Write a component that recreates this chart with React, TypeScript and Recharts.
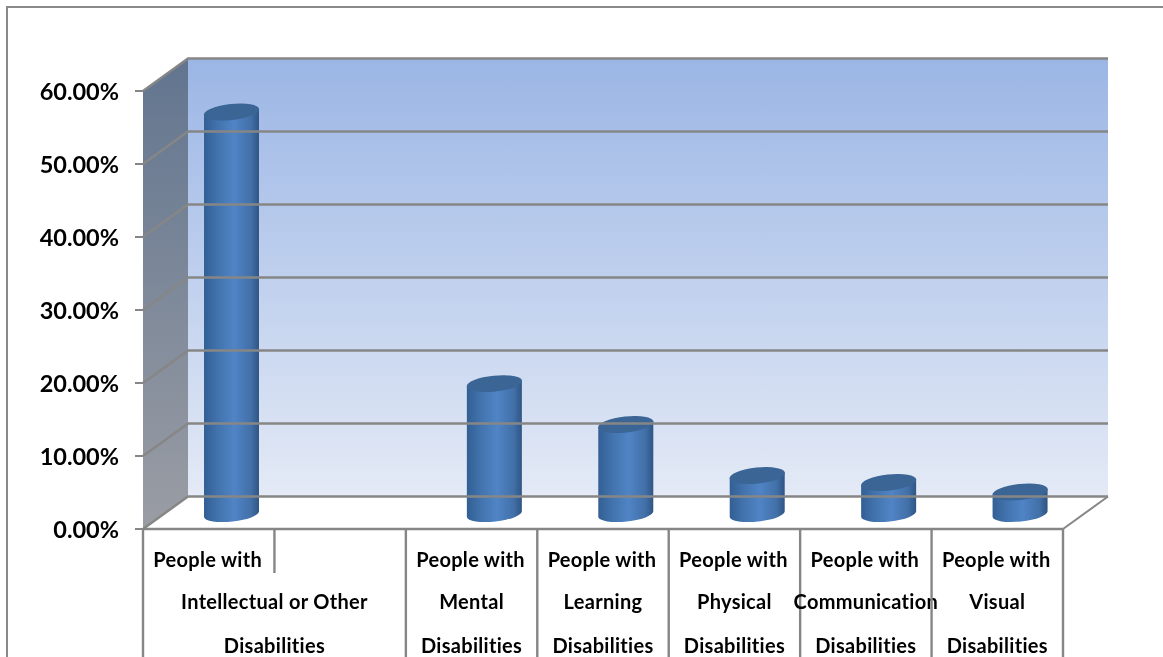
import React from 'react';
import { BarChart, Bar, XAxis, YAxis, Customized } from 'recharts';

// slot 2 has no bar: the first label spans two slots in the original sheet
const categories = ['Intellectual', 'Blank', 'Mental', 'Learning', 'Physical', 'Communication', 'Visual'];
const shares = [0.552, null, 0.18, 0.124, 0.054, 0.0445, 0.0315];
const topLabels = ['People with', '', 'People with', 'People with', 'People with', 'People with', 'People with'];
const midLabels = ['Intellectual or Other', '', 'Mental', 'Learning', 'Physical', 'Communication', 'Visual'];
const lowLabels = ['Disabilities', '', 'Disabilities', 'Disabilities', 'Disabilities', 'Disabilities', 'Disabilities'];
const labelSpans = [2, 0, 1, 1, 1, 1, 1];
const yTicks = [0, 0.1, 0.2, 0.3, 0.4, 0.5, 0.6];

const rows = categories.map((name, i) => ({ name, share: shares[i] }));

const FONT = 'Lato, sans-serif';
const GRID = '#868686';
const DEPTH_X = 45;
const DEPTH_Y = 32.5;
const LEFT = 143;
const RIGHT = 1063;
const TOP = 91;
const BASE = 529;
const BAND = (RIGHT - LEFT) / categories.length;

const Walls = () => (
  <g>
    <defs>
      <linearGradient id="backWall" x1="0" y1="0" x2="0" y2="1">
        <stop offset="0%" stopColor="#9bb6e5" />
        <stop offset="100%" stopColor="#e4eaf6" />
      </linearGradient>
      <linearGradient id="sideWall" x1="0" y1="0" x2="0" y2="1">
        <stop offset="0%" stopColor="#62758f" />
        <stop offset="100%" stopColor="#9a9da4" />
      </linearGradient>
      <linearGradient id="cylinder" x1="0" y1="0" x2="1" y2="0">
        <stop offset="0%" stopColor="#325f94" />
        <stop offset="25%" stopColor="#4273ad" />
        <stop offset="55%" stopColor="#5084c6" />
        <stop offset="85%" stopColor="#4270a8" />
        <stop offset="100%" stopColor="#2f5584" />
      </linearGradient>
    </defs>
    <rect x={7} y={7} width={1170} height={670} fill="#fff" stroke="#8a8a8a" strokeWidth={2} />
    <rect x={LEFT + DEPTH_X} y={TOP - DEPTH_Y} width={RIGHT - LEFT} height={BASE - TOP} fill="url(#backWall)" />
    <polygon
      points={`${LEFT},${TOP} ${LEFT + DEPTH_X},${TOP - DEPTH_Y} ${LEFT + DEPTH_X},${BASE - DEPTH_Y} ${LEFT},${BASE}`}
      fill="url(#sideWall)"
    />
    <line x1={RIGHT} y1={BASE} x2={RIGHT + DEPTH_X} y2={BASE - DEPTH_Y} stroke={GRID} strokeWidth={2} />
  </g>
);

// y axis tick also carries the gridline that runs over the side and back walls
const ValueTick = ({ x, y, payload }: any) => (
  <g>
    <line x1={LEFT - 8} y1={y} x2={LEFT} y2={y} stroke={GRID} strokeWidth={2} />
    <polyline
      points={`${LEFT},${y} ${LEFT + DEPTH_X},${y - DEPTH_Y} ${RIGHT + DEPTH_X},${y - DEPTH_Y}`}
      fill="none"
      stroke={GRID}
      strokeWidth={2.4}
    />
    <text x={119} y={y + 9} textAnchor="end" fontFamily={FONT} fontWeight={700} fontSize={23.5} fill="#000">
      {(payload.value * 100).toFixed(2) + '%'}
    </text>
  </g>
);

const CategoryTick = ({ x, y, payload, index }: any) => {
  const i = payload.index ?? index;
  const left = x - BAND / 2;
  const span = labelSpans[i];
  const labelX = left + (span * BAND) / 2;
  return (
    <g
      fontFamily={FONT}
      fontWeight={700}
      fontSize={20}
      fill="#000"
      textAnchor="middle"
      style={{ fontVariantLigatures: 'none', letterSpacing: 0.3 }}
    >
      <line x1={left} y1={BASE} x2={left} y2={i === 1 ? 573 : 657} stroke={GRID} strokeWidth={2.4} />
      {i === categories.length - 1 && <line x1={left + BAND} y1={BASE} x2={left + BAND} y2={657} stroke={GRID} strokeWidth={2.4} />}
      <text x={x - 1} y={567} fill="#000">{topLabels[i]}</text>
      <text x={labelX} y={609} fill="#000">{midLabels[i]}</text>
      <text x={labelX} y={653} fill="#000">{lowLabels[i]}</text>
    </g>
  );
};

const Cylinder = ({ x, y, width, height }: any) => {
  if (!height || height <= 0) return null;
  const r = width / 2;
  const cx = x + r + 23;
  const ry = 7.5;
  const tilt = 3;
  const top = y - 14;
  const bottom = y + height - 15;
  const d = `M${cx - r},${top + tilt} L${cx - r},${bottom + tilt} A${r},${ry} -6 0 0 ${cx + r},${bottom - tilt} L${cx + r},${top - tilt} Z`;
  return (
    <g>
      <path d={d} fill="url(#cylinder)" />
      <ellipse cx={cx} cy={top} rx={r + 0.3} ry={ry + 0.5} fill="#3a6595" transform={`rotate(-6 ${cx} ${top})`} />
    </g>
  );
};

export default function App() {
  return (
    <div style={{ position: 'absolute', left: 0, top: 0, width: 1163, height: 657, overflow: 'hidden', filter: 'blur(0.4px)' }}>
      <BarChart
        width={1163}
        height={657}
        data={rows}
        margin={{ top: TOP, right: 1163 - RIGHT, bottom: 0, left: 0 }}
        barCategoryGap={0}
      >
        <Customized component={Walls} />
        <XAxis
          dataKey="name"
          interval={0}
          height={657 - BASE}
          axisLine={{ stroke: GRID, strokeWidth: 2.4 }}
          tickLine={false}
          tick={<CategoryTick />}
        />
        <YAxis
          width={LEFT}
          domain={[0, 0.6]}
          ticks={yTicks}
          axisLine={false}
          tickLine={false}
          tick={<ValueTick />}
        />
        <Bar dataKey="share" barSize={55} shape={<Cylinder />} isAnimationActive={false} />
      </BarChart>
    </div>
  );
}
